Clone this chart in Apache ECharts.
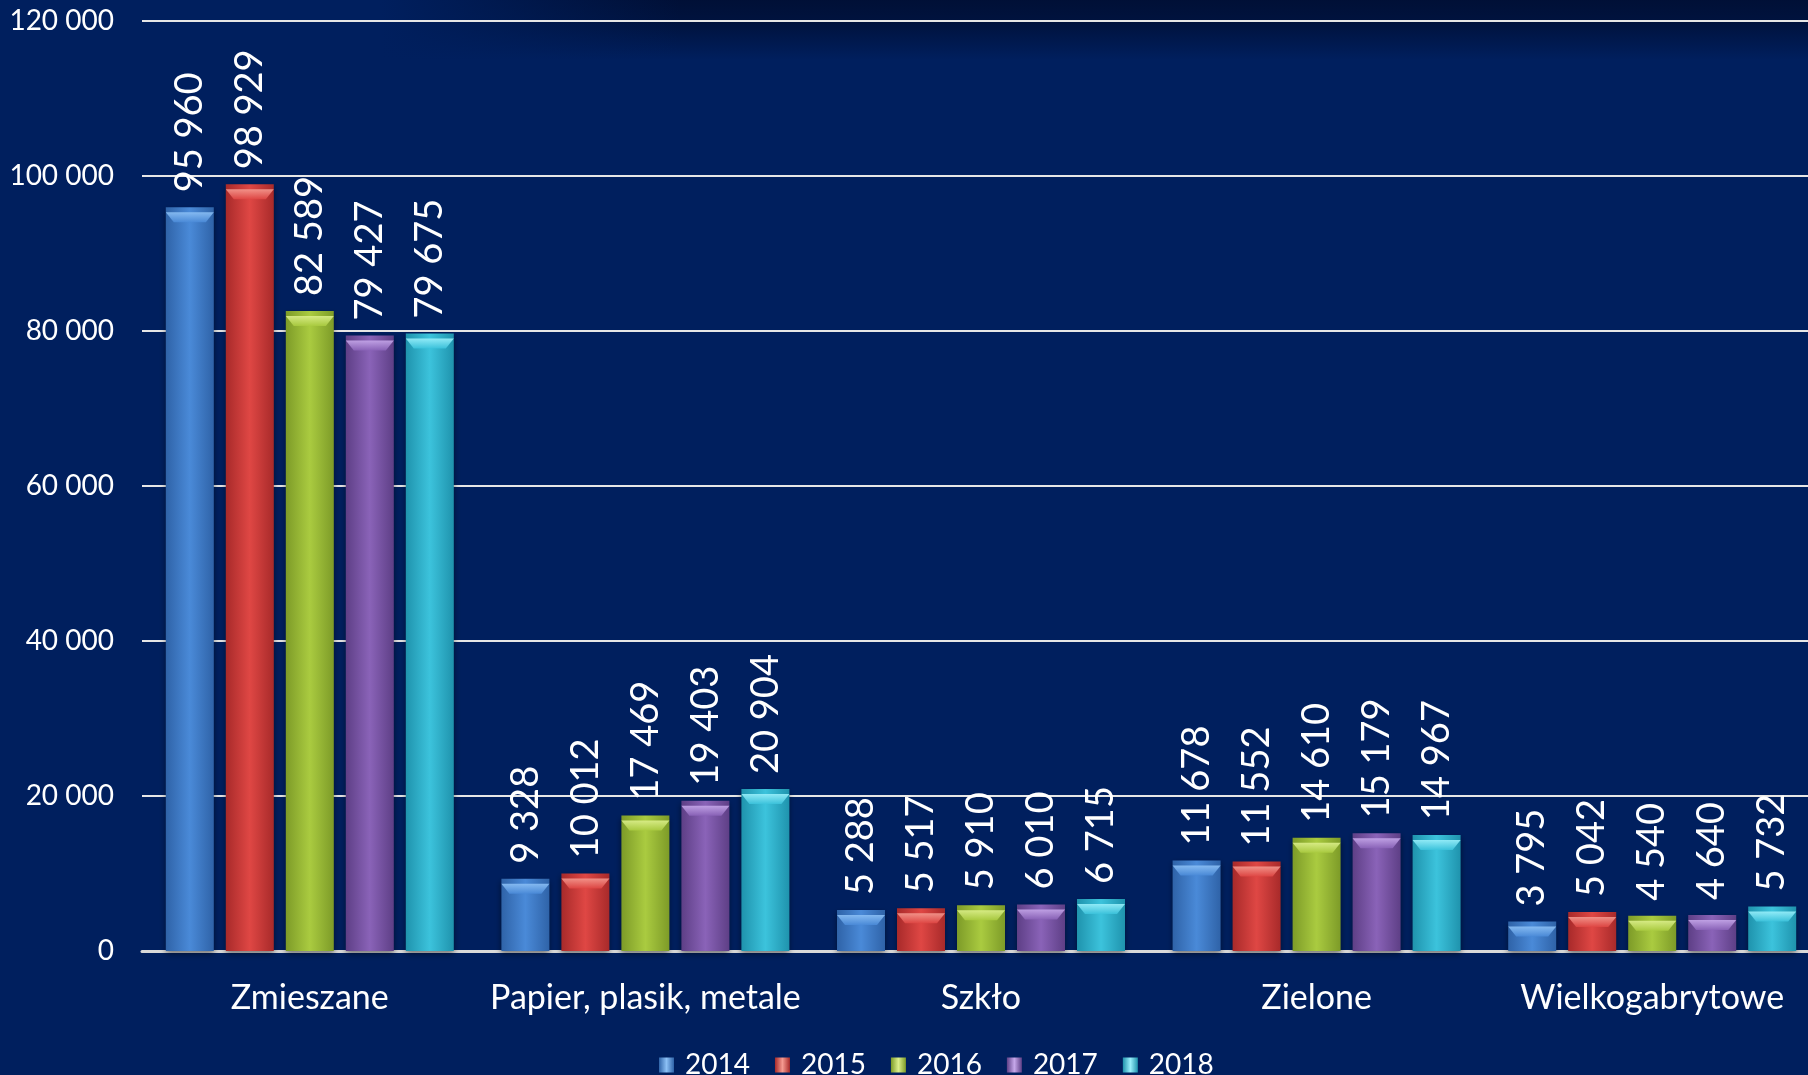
<!DOCTYPE html>
<html>
<head>
<meta charset="utf-8">
<script src="https://cdn.jsdelivr.net/npm/echarts@6/dist/echarts.min.js"></script>
<style>
  html, body { margin: 0; padding: 0; background: #001f5e; overflow: hidden; }
  /* the plot runs a little past the right edge of the window, as in the source */
  #app { width: 1820px; height: 1075px; }
</style>
</head>
<body>
<div id="app"></div>
<script>
const categories = ['Zmieszane', 'Papier, plasik, metale', 'Szkło', 'Zielone', 'Wielkogabrytowe'];
const years = ['2014', '2015', '2016', '2017', '2018'];

const values2014 = [95960, 9328, 5288, 11678, 3795];
const values2015 = [98929, 10012, 5517, 11552, 5042];
const values2016 = [82589, 17469, 5910, 14610, 4540];
const values2017 = [79427, 19403, 6010, 15179, 4640];
const values2018 = [79675, 20904, 6715, 14967, 5732];

// [dark edge, mid, light cap]
const palette = [
  ['#2f63a8', '#4a8ad8', '#8cc0f5'],
  ['#a82a2a', '#df4744', '#f59a90'],
  ['#7d9b28', '#aacb40', '#dcef8c'],
  ['#5e3f86', '#8a63b8', '#c6a8ea'],
  ['#1f93ad', '#3cc3dc', '#9af0fb'],
];

const allValues = [values2014, values2015, values2016, values2017, values2018];

const fmt = (v) => String(v).replace(/\B(?=(\d{3})+(?!\d))/g, ' ');

const eChart = echarts.init(document.getElementById('app'));

const barSeries = years.map((year, i) => ({
  type: 'bar',
  name: year,
  data: allValues[i],
  barWidth: 48,
  barGap: '25%',
  itemStyle: {
    color: new echarts.graphic.LinearGradient(0, 0, 1, 0, [
      { offset: 0, color: palette[i][0] },
      { offset: 0.5, color: palette[i][1] },
      { offset: 1, color: palette[i][0] },
    ]),
    shadowColor: 'rgba(0,0,0,0.45)',
    shadowBlur: 6,
    shadowOffsetY: 3,
  },
  label: {
    show: true,
    position: 'top',
    rotate: 90,
    align: 'left',
    verticalAlign: 'middle',
    distance: 15,
    color: '#fff',
    fontFamily: 'Lato',
    fontSize: 38,
    formatter: (p) => fmt(p.value),
  },
}));

// lighter bevel on top of each bar
const capSeries = years.map((year, i) => ({
  type: 'pictorialBar',
  name: year,
  data: allValues[i],
  barWidth: 48,
  barGap: '25%',
  symbol: 'path://M0,0 L48,0 L40,10 L8,10 Z',
  symbolSize: [48, 10],
  symbolPosition: 'end',
  symbolOffset: [0, '50%'],
  silent: true,
  z: 3,
  itemStyle: {
    color: new echarts.graphic.LinearGradient(0, 0, 0, 1, [
      { offset: 0, color: palette[i][2] },
      { offset: 1, color: palette[i][1] },
    ]),
    opacity: 0.9,
  },
}));

const option = {
  backgroundColor: '#001f5e',
  animation: false,
  graphic: [
    {
      type: 'rect',
      z: -10,
      shape: { x: 380, y: 0, width: 1440, height: 60 },
      style: {
        fill: new echarts.graphic.LinearGradient(0, 0, 0, 1, [
          { offset: 0, color: 'rgba(0,14,50,0.9)' },
          { offset: 0.4, color: 'rgba(0,14,50,0.7)' },
          { offset: 1, color: 'rgba(0,14,50,0)' },
        ]),
      },
    },
    {
      type: 'rect',
      z: -9,
      shape: { x: 380, y: 0, width: 300, height: 60 },
      style: {
        fill: new echarts.graphic.LinearGradient(0, 0, 1, 0, [
          { offset: 0, color: '#001f5e' },
          { offset: 1, color: 'rgba(0,31,94,0)' },
        ]),
      },
    },
  ],
  legend: {
    data: years.map((y, i) => ({
      name: y,
      itemStyle: {
        color: new echarts.graphic.LinearGradient(0, 0, 1, 0, [
          { offset: 0, color: palette[i][0] },
          { offset: 0.5, color: palette[i][2] },
          { offset: 1, color: palette[i][0] },
        ]),
      },
    })),
    left: 654,
    top: 1046,
    icon: 'rect',
    itemWidth: 15,
    itemHeight: 15,
    itemGap: 25,
    textStyle: {
      color: '#fff',
      fontFamily: 'Lato',
      fontSize: 28,
      padding: [0, 0, 0, 6],
    },
  },
  grid: {
    left: 142,
    right: 0,
    top: 21,
    bottom: 124,
    containLabel: false,
  },
  xAxis: {
    type: 'category',
    data: categories,
    axisLine: { lineStyle: { color: '#d9d9d9', width: 3 } },
    axisTick: { show: false },
    axisLabel: {
      interval: 0,
      color: '#fff',
      fontFamily: 'Lato',
      fontSize: 34,
      margin: 30,
    },
  },
  yAxis: {
    type: 'value',
    min: 0,
    max: 120000,
    interval: 20000,
    axisLine: { show: false },
    axisTick: { show: false },
    splitLine: { lineStyle: { color: '#e6e6e6', width: 2 } },
    axisLabel: {
      color: '#fff',
      fontFamily: 'Lato',
      fontSize: 28,
      margin: 28,
      formatter: (v) => fmt(v),
    },
  },
  series: barSeries.concat(capSeries),
};

eChart.setOption(option);
</script>
</body>
</html>
